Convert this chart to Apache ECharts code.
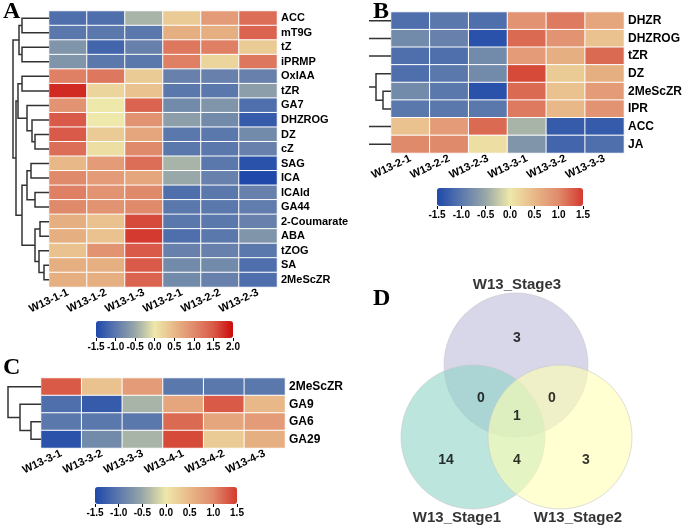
<!DOCTYPE html>
<html><head><meta charset="utf-8">
<script src="https://cdn.jsdelivr.net/npm/echarts@6/dist/echarts.min.js"></script>
<style>html,body{margin:0;padding:0;background:#fff}#c{width:685px;height:528px}</style>
</head><body><div id="c"></div>
<script>
// ---------- Data ----------
const rowsA = ['ACC','mT9G','tZ','iPRMP','OxIAA','tZR','GA7','DHZROG','DZ','cZ','SAG','ICA','ICAld','GA44','2-Coumarate','ABA','tZOG','SA','2MeScZR'];
const colsA = ['W13-1-1','W13-1-2','W13-1-3','W13-2-1','W13-2-2','W13-2-3'];
const valuesA = [
  [-1.1,-1.1,-0.4, 0.3, 0.8, 1.3],
  [-1.0,-1.0,-1.0, 0.6, 0.6, 1.4],
  [-0.7,-1.2,-0.9, 1.2, 1.1, 0.3],
  [-0.7,-1.0,-1.0, 1.1, 0.2, 1.2],
  [ 1.1, 1.2, 0.3,-0.9,-0.9,-0.9],
  [ 1.8, 0.2, 0.4,-1.0,-1.0,-0.6],
  [ 0.9, 0.0, 1.4,-0.8,-0.7,-1.1],
  [ 1.5, 0.0, 0.9,-0.6,-0.8,-1.3],
  [ 1.5, 0.3, 0.7,-1.0,-1.0,-0.8],
  [ 1.3, 0.1, 1.0,-1.0,-1.0,-0.9],
  [ 0.5, 0.8, 1.3,-0.4,-1.0,-1.4],
  [ 1.0, 0.8, 0.7,-0.5,-0.9,-1.5],
  [ 1.1, 0.9, 1.0,-1.1,-1.0,-0.9],
  [ 1.0, 0.9, 1.0,-1.0,-1.0,-0.95],
  [ 0.6, 0.4, 1.6,-1.0,-1.0,-0.9],
  [ 0.6, 0.4, 1.7,-1.1,-1.0,-0.7],
  [ 0.4, 0.9, 1.5,-0.9,-0.9,-1.0],
  [ 0.6, 0.6, 1.5,-0.8,-0.8,-1.1],
  [ 0.6, 0.6, 1.4,-0.8,-0.9,-1.1]
];
// hclust-style merges: negative = leaf (-(i+1)), positive = merge number; third = height
const mergesA = [
  [-1,-2,27],[-3,-4,27],[1,2,30],[-5,-6,27],[-9,-10,14],[-8,5,17],[-7,6,22],[4,7,31],
  [-11,-12,18],[-13,-14,14],[9,10,22],[-15,-16,9],[-18,-19,5],[-17,13,10],[12,14,14],
  [11,15,27],[8,16,33],[3,17,36]
];

const rowsB = ['DHZR','DHZROG','tZR','DZ','2MeScZR','IPR','ACC','JA'];
const colsB = ['W13-2-1','W13-2-2','W13-2-3','W13-3-1','W13-3-2','W13-3-3'];
const valuesB = [
  [-1.1,-1.0,-1.1, 0.9, 1.1, 0.7],
  [-0.8,-0.9,-1.4, 1.2, 0.9, 0.4],
  [-1.1,-1.1,-0.8, 0.8, 0.6, 1.2],
  [-1.1,-1.0,-0.8, 1.4, 0.3, 0.6],
  [-0.8,-1.0,-1.4, 1.2, 0.4, 0.8],
  [-1.0,-1.0,-1.0, 1.1, 0.5, 0.9],
  [ 0.4, 0.8, 1.2,-0.4,-1.3,-1.3],
  [ 1.0, 1.0, 0.1,-0.7,-1.2,-1.1]
];
const mergesB = [[-5,-6,8],[-4,1,15],[-3,2,25],[-1,-2,28],[4,3,32],[-7,-8,26],[5,6,40]];

const rowsC = ['2MeScZR','GA9','GA6','GA29'];
const colsC = ['W13-3-1','W13-3-2','W13-3-3','W13-4-1','W13-4-2','W13-4-3'];
const valuesC = [
  [ 1.3, 0.4, 0.8,-1.0,-1.0,-1.0],
  [-1.1,-1.3,-0.4, 0.7, 1.3, 0.5],
  [-1.0,-1.0,-1.0, 1.2, 0.7, 0.8],
  [-1.4,-0.8,-0.4, 1.4, 0.3, 0.6]
];
const mergesC = [[-3,-4,10],[-2,1,21],[-1,2,33]];

const ticksA = [-1.5,-1.0,-0.5,0.0,0.5,1.0,1.5,2.0];
const ticksBC = [-1.5,-1.0,-0.5,0.0,0.5,1.0,1.5];

// Venn
const vennSets = ['W13_Stage3','W13_Stage1','W13_Stage2'];
const vennCenters = [[146,105],[103,177],[190,177]];
const vennColors = ['#bebada','#8dd3c7','#ffffb3'];
const vennCounts = [3,0,0,1,14,4,3];
const vennCountPos = [[147,78],[111,138],[182,138],[147,156],[76,200],[147,200],[216,200]];
const vennLabelPos = [[147,25],[87,258],[208,258]];

// ---------- Helpers ----------
const palA = ['#1f48aa','#5b78ad','#98a7a8','#eee8aa','#e8b888','#e08a6c','#d95a48','#cc0a0a'];
const palBC = ['#1f48aa','#5b78ad','#98a7a8','#eee8aa','#e8b888','#e08a6c','#d43a2e'];
function hmData(vals){const d=[];vals.forEach((r,i)=>r.forEach((v,j)=>d.push([j,i,v])));return d;}
function dendroLines(merges,n){
  const info=[];const lines=[];
  const get=(k)=>k<0?{y:(-k-1)+0.5,h:0}:info[k-1];
  merges.forEach(m=>{
    const a=get(m[0]),b=get(m[1]),h=m[2];
    lines.push({coords:[[a.h,a.y],[h,a.y],[h,b.y],[b.h,b.y]]});
    info.push({y:(a.y+b.y)/2,h:h});
  });
  return lines;
}
const FONT='Liberation Sans';
const lblBold=(sz)=>({fontFamily:FONT,fontWeight:'bold',fontSize:sz,color:'#000'});

const layouts = {
  A:{hm:{left:49,top:11,width:228,height:276}, dd:{left:5,width:44,max:44}, cb:{left:96,top:321,width:137,height:17}},
  B:{hm:{left:391,top:12,width:241,height:141}, dd:{left:370,width:21,max:21}, cb:{left:437,top:188,width:146,height:18}},
  C:{hm:{left:41,top:378,width:244,height:70}, dd:{left:2,width:39,max:39}, cb:{left:95,top:487,width:142,height:17}}
};
const panels = [
  {k:'A',rows:rowsA,cols:colsA,vals:valuesA,merges:mergesA,ticks:ticksA,pal:palA,fs:11},
  {k:'B',rows:rowsB,cols:colsB,vals:valuesB,merges:mergesB,ticks:ticksBC,pal:palBC,fs:12},
  {k:'C',rows:rowsC,cols:colsC,vals:valuesC,merges:mergesC,ticks:ticksBC,pal:palBC,fs:12}
];

const grid=[],xAxis=[],yAxis=[],series=[],visualMap=[];
panels.forEach((p,pi)=>{
  const L=layouts[p.k];
  let gi=grid.length;
  grid.push(Object.assign({containLabel:false},L.hm));
  xAxis.push({type:'category',gridIndex:gi,data:p.cols,axisLine:{show:false},axisTick:{show:false},
    axisLabel:Object.assign({rotate:25,margin:5,interval:0},lblBold(11)),splitLine:{show:false}});
  yAxis.push({type:'category',gridIndex:gi,data:p.rows,inverse:true,position:'right',axisLine:{show:false},axisTick:{show:false},
    axisLabel:Object.assign({margin:4,interval:0},lblBold(p.fs)),splitLine:{show:false}});
  const hmSeriesIndex=series.length;
  series.push({type:'heatmap',xAxisIndex:gi,yAxisIndex:gi,data:hmData(p.vals),
    itemStyle:{borderColor:'#ffffff',borderWidth:1},emphasis:{disabled:true}});
  visualMap.push({type:'continuous',seriesIndex:hmSeriesIndex,min:p.ticks[0],max:p.ticks[p.ticks.length-1],
    orient:'horizontal',left:L.cb.left,top:L.cb.top,itemWidth:L.cb.height,itemHeight:L.cb.width,
    calculable:false,hoverLink:false,padding:0,text:null,showLabel:false,inRange:{color:p.pal}});
  gi=grid.length;
  grid.push({left:L.dd.left,top:L.hm.top,width:L.dd.width,height:L.hm.height});
  xAxis.push({type:'value',gridIndex:gi,min:0,max:L.dd.max,inverse:true,show:false});
  yAxis.push({type:'value',gridIndex:gi,min:0,max:p.rows.length,inverse:true,show:false});
  series.push({type:'lines',coordinateSystem:'cartesian2d',xAxisIndex:gi,yAxisIndex:gi,polyline:true,clip:true,
    silent:true,lineStyle:{color:'#333',width:1.5,opacity:1},data:dendroLines(p.merges,p.rows.length)});
  gi=grid.length;
  grid.push({left:L.cb.left,top:L.cb.top,width:L.cb.width,height:L.cb.height});
  xAxis.push({type:'value',gridIndex:gi,min:p.ticks[0],max:p.ticks[p.ticks.length-1],interval:0.5,
    axisLine:{show:false},axisTick:{show:true,length:3,lineStyle:{color:'#000'}},splitLine:{show:false},
    axisLabel:Object.assign({margin:4,formatter:v=>v.toFixed(1)},lblBold(10))});
  yAxis.push({type:'value',gridIndex:gi,show:false,min:0,max:1});
});

const gv=grid.length;
grid.push({left:370,top:260,width:315,height:268});
xAxis.push({type:'value',gridIndex:gv,min:0,max:315,show:false});
yAxis.push({type:'value',gridIndex:gv,min:0,max:268,inverse:true,show:false});
vennSets.forEach((s,i)=>{
  series.push({type:'scatter',xAxisIndex:gv,yAxisIndex:gv,symbol:'circle',symbolSize:144,silent:true,
    data:[vennCenters[i]],itemStyle:{color:vennColors[i],opacity:0.6,borderColor:'#c8c8c8',borderWidth:1}});
});
series.push({type:'scatter',xAxisIndex:gv,yAxisIndex:gv,symbolSize:0,silent:true,
  data:vennCountPos.map((p,i)=>[p[0],p[1],vennCounts[i]]),
  label:Object.assign({show:true,position:'inside',formatter:d=>String(d.value[2])},lblBold(14))});
series.push({type:'scatter',xAxisIndex:gv,yAxisIndex:gv,symbolSize:0,silent:true,
  data:vennLabelPos.map((p,i)=>[p[0],p[1],vennSets[i]]),
  label:Object.assign({show:true,position:'inside',formatter:d=>d.value[2]},lblBold(15))});

const letterStyle=(t,x,y)=>({type:'text',left:x,top:y,style:{text:t,font:'bold 24px "Liberation Serif"',fill:'#000'}});

const chart=echarts.init(document.getElementById('c'),null,{renderer:'canvas'});
chart.setOption({
  animation:false,
  grid,xAxis,yAxis,series,visualMap,
  graphic:[letterStyle('A',3,0),letterStyle('B',373,0),letterStyle('C',3,356),letterStyle('D',373,287)]
});
</script></body></html>
